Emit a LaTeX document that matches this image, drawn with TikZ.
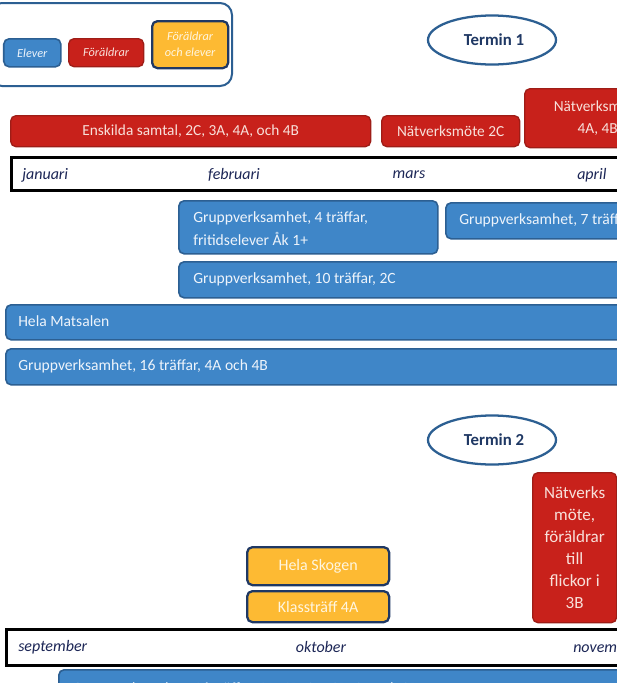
\documentclass[tikz,border=0pt]{standalone}
\usepackage{fontspec}
\setmainfont{Carlito}
\usetikzlibrary{shapes.geometric}
\definecolor{bfill}{HTML}{3F86C8}
\definecolor{bline}{HTML}{2C5F92}
\definecolor{rfill}{HTML}{C8211B}
\definecolor{rline}{HTML}{9E1D17}
\definecolor{yfill}{HTML}{FDBA33}
\definecolor{navy}{HTML}{1F3864}
\definecolor{monthc}{HTML}{1C2656}
\definecolor{btxt}{HTML}{EEF4FB}
\definecolor{rtxt}{HTML}{F8E0DA}
\definecolor{ytxt}{HTML}{FFF6E0}
\tikzset{
  sz/.style 2 args={rectangle, rounded corners=4pt, minimum width=#1*0.75pt, minimum height=#2*0.75pt, anchor=north west, inner sep=0pt},
  bluebox/.style={draw=bline, fill=bfill, line width=1.2pt},
  redbox/.style={draw=rline, fill=rfill, line width=1pt},
  yelbox/.style={draw=navy, fill=yfill, line width=1.7pt},
  btext/.style={text=btxt, font=\fontsize{11.7}{17.3}\selectfont, anchor=west, inner sep=0pt, align=left},
  rtext/.style={text=rtxt, font=\fontsize{11.5}{16.5}\selectfont, inner sep=0pt, align=center},
  ytext/.style={text=ytxt, font=\fontsize{12}{14}\selectfont, inner sep=0pt},
  monthbar/.style={draw=black, line width=2.2pt, fill=white, anchor=north west, inner sep=0pt, rectangle},
  month/.style={text=monthc, font=\fontsize{12}{14}\selectfont\itshape, inner sep=0pt},
  termin/.style={ellipse, draw=bline, line width=1.7pt, minimum width=128*0.75pt, minimum height=49*0.75pt},
  termtext/.style={text=navy, font=\fontsize{12.6}{14}\selectfont\bfseries, inner sep=0pt},
  legtext/.style={font=\fontsize{9.2}{11}\selectfont\itshape, inner sep=0pt, align=center},
}
\begin{document}
\begin{tikzpicture}[x=0.75pt,y=-0.75pt]
\useasboundingbox (0,0) rectangle (617,683);
\clip (0,0) rectangle (617,683);
\fill[white] (0,0) rectangle (617,683);

% legend
\draw[bline, line width=1.5pt, rounded corners=9pt] (-10,3) rectangle (232,86);
\node[sz={57}{28}, bluebox] (lelev) at (3,38) {};
\node[legtext, text=btxt] at (lelev.center) {Elever};
\node[sz={75}{28}, redbox] (lfor) at (68,38) {};
\node[legtext, text=rtxt] at (lfor.center) {Föräldrar};
\node[sz={76}{47}, yelbox] (lboth) at (151,20) {};
\node[legtext, text=ytxt] at (lboth.center) {Föräldrar\\[1pt]och elever};

% Termin 1
\node[termin] (t1) at (492,40) {};
\node[termtext] at (494,40) {Termin 1};

% red row
\node[sz={360}{31}, redbox] (ensk) at (10,115) {};
\node[rtext] at (ensk.center) {Enskilda samtal, 2C, 3A, 4A, och 4B};
\node[sz={138}{31}, redbox] (nat2c) at (381,115) {};
\node[rtext] at (nat2c.center) {Nätverksmöte 2C};
\node[sz={146}{59}, redbox] (nat4) at (524,88) {};
\node[rtext] at (nat4.center) {Nätverksmöte\\4A, 4B};

% month bar 1
\node[monthbar, minimum width=640*0.75pt, minimum height=33*0.75pt] (mb1) at (10,156) {};
\node[month, anchor=west] (jan) at (22,175) {januari};
\node[month] (feb) at (234,175) {februari};
\node[month] (mar) at (409,175) {mars};
\node[month, anchor=west] (apr) at (577,175) {april};

% blue rows
\node[sz={259}{53}, bluebox] (g4) at (178,200) {};
\node[btext] at (193,228.5) {Gruppverksamhet, 4 träffar,\\fritidselever Åk 1+};
\node[sz={200}{36}, bluebox] (g7) at (445,202) {};
\node[btext] at (459,220) {Gruppverksamhet, 7 träffar, 3A};
\node[sz={460}{36}, bluebox] (g10) at (178,261) {};
\node[btext] at (193,279) {Gruppverksamhet, 10 träffar, 2C};
\node[sz={640}{35}, bluebox] (mats) at (5,304) {};
\node[btext] at (18,321.5) {Hela Matsalen};
\node[sz={640}{36}, bluebox] (g16) at (5,348) {};
\node[btext] at (18,366) {Gruppverksamhet, 16 träffar, 4A och 4B};

% Termin 2
\node[termin] (t2) at (492,440) {};
\node[termtext] at (494,440) {Termin 2};

\node[sz={84}{150}, redbox] (natf) at (532,472) {};
\node[rtext, font=\fontsize{12.8}{16.6}\selectfont] at (natf.center) {Nätverks\\möte,\\föräldrar\\till\\flickor i\\3B};

\node[sz={142}{38}, yelbox] (skog) at (246,546) {};
\node[ytext] at (skog.center) {Hela Skogen};
\node[sz={142}{31}, yelbox] (klass) at (246,590) {};
\node[ytext] at (klass.center) {Klassträff 4A};

% month bar 2
\node[monthbar, minimum width=640*0.75pt, minimum height=36*0.75pt] (mb2) at (5,628) {};
\node[month, anchor=west] (sep) at (18,647) {september};
\node[month] (okt) at (321,647) {oktober};
\node[month, anchor=west] (nov) at (573,647) {november};

\node[sz={600}{40}, bluebox] (gb) at (58,669) {};
\node[btext] at (72,689) {Gruppverksamhet, 16 träffar, 1A, 1B, 2A, 2B, 3A och 3B};
\end{tikzpicture}
\end{document}
